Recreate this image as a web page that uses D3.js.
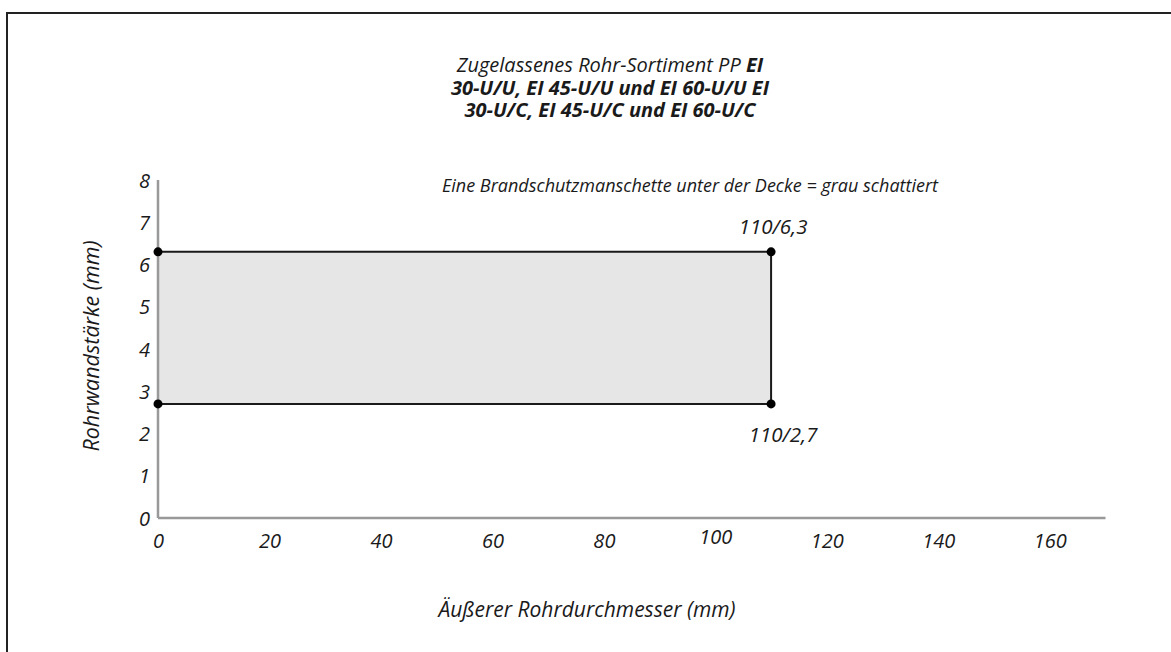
<!DOCTYPE html>
<html><head><meta charset="utf-8">
<script src="https://cdn.jsdelivr.net/npm/d3@7"></script>
<style>
body{margin:0;background:#fff;}
text{font-family:"Open Sans","Noto Sans",sans-serif;font-style:italic;fill:#1a1a1a;}
</style></head><body>
<svg id="c" width="1171" height="652"></svg>
<script>
const xTicks = [0,20,40,60,80,100,120,140,160];
const yTicks = [0,1,2,3,4,5,6,7,8];
const corners = [ {d:0,s:2.7},{d:0,s:6.3},{d:110,s:6.3},{d:110,s:2.7} ];
const pointLabels = [ {d:110,s:6.3,t:"110/6,3",pos:"above"}, {d:110,s:2.7,t:"110/2,7",pos:"below"} ];
const xDomain = [0,170];
const yDomain = [0,8];
const titleLines = [
  [{t:"Zugelassenes Rohr-Sortiment PP ",b:false},{t:"EI",b:true}],
  [{t:"30-U/U, EI 45-U/U und EI 60-U/U EI",b:true}],
  [{t:"30-U/C, EI 45-U/C und EI 60-U/C",b:true}]
];
const subtitle = "Eine Brandschutzmanschette unter der Decke = grau schattiert";
const xLabel = "Äußerer Rohrdurchmesser (mm)";
const yLabel = "Rohrwandstärke (mm)";

const svg = d3.select("#c");
svg.append("rect").attr("x",7).attr("y",13).attr("width",1200).attr("height",700)
  .attr("fill","none").attr("stroke","#222").attr("stroke-width",2);

const x = d3.scaleLinear().domain(xDomain).range([158,1105.5]);
const y = d3.scaleLinear().domain(yDomain).range([518,180]);

// shaded region
svg.append("path")
  .attr("d", d3.line().x(p=>x(p.d)).y(p=>y(p.s))(corners)+"Z")
  .attr("fill","#e6e6e6").attr("stroke","#1a1a1a").attr("stroke-width",2);

// axes
const xAxis = d3.axisBottom(x).tickValues(xTicks).tickSize(0).tickFormat(d3.format("d"));
const gx = svg.append("g").attr("transform",`translate(0,${y(0)})`).call(xAxis);
gx.select(".domain").attr("stroke","#999").attr("stroke-width",2.5).attr("d",`M${x(0)},0H${x(170)}`);
gx.selectAll("text").attr("dy",null).attr("y",30).attr("font-size",20).attr("fill","#1a1a1a");
gx.selectAll(".tick").filter(d=>d===100).select("text").attr("y",26);

const yAxis = d3.axisLeft(y).tickValues(yTicks).tickSize(0).tickFormat(d3.format("d"));
const gy = svg.append("g").attr("transform",`translate(${x(0)},0)`).call(yAxis);
gy.select(".domain").attr("stroke","#999").attr("stroke-width",2.5).attr("d",`M0,${y(8)}V${y(0)}`);
gy.selectAll("text").attr("x",-8).attr("dy","0.35em").attr("font-size",20).attr("fill","#1a1a1a");

// points
svg.selectAll("circle.pt").data(corners).join("circle").attr("class","pt")
  .attr("cx",p=>x(p.d)).attr("cy",p=>y(p.s)).attr("r",4.5).attr("fill","#000");

svg.selectAll("text.pl").data(pointLabels).join("text").attr("class","pl")
  .attr("x",p=>x(p.d)+ (p.pos==="above"?2:12)).attr("y",p=>y(p.s)+(p.pos==="above"?-18:38))
  .attr("text-anchor","middle").attr("font-size",20.5).text(p=>p.t);

// title
const tg = svg.append("g");
titleLines.forEach((line,i)=>{
  const t = tg.append("text").attr("x",610).attr("y",72+i*22.5).attr("text-anchor","middle").attr("font-size",20);
  line.forEach(seg=>t.append("tspan").attr("font-weight",seg.b?"bold":"normal").text(seg.t));
});
svg.append("text").attr("x",690).attr("y",192).attr("text-anchor","middle").attr("font-size",18).text(subtitle);

svg.append("text").attr("x",587).attr("y",617).attr("text-anchor","middle").attr("font-size",21).text(xLabel);
svg.append("text").attr("transform",`translate(99,346) rotate(-90)`).attr("text-anchor","middle").attr("font-size",21.5).text(yLabel);
</script>
</body></html>
